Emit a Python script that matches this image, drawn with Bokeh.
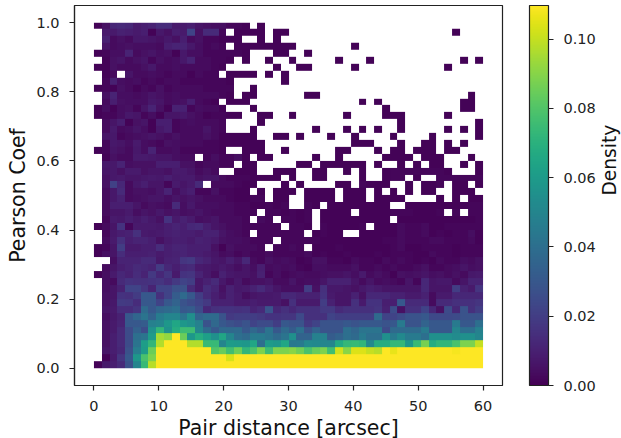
from bokeh.plotting import figure
from bokeh.models import LinearColorMapper, ColorBar, FixedTicker, Range1d, LinearAxis, NumeralTickFormatter
from bokeh.palettes import Viridis256
from bokeh.embed import file_html
from bokeh.resources import INLINE
import numpy as np
import math

_ = None
x_ticks = [0, 10, 20, 30, 40, 50, 60]
y_ticks = [0.0, 0.2, 0.4, 0.6, 0.8, 1.0]
cbar_ticks = [0.0, 0.02, 0.04, 0.06, 0.08, 0.10]
x_extent = [0, 60]
y_extent = [0, 1]
density_max = 0.1097

# density in thousandths, one list per row of cells from the top of the plot down
r00 = [1,5,12,13,12, 8,9,11,14,14, 8,8,9,6,5, 4,4,2,2,1, _,1,_,_,_, _,_,_,_,_, _,_,_,_,_, _,_,_,_,_, _,_,_,_,_, _,_,_,_,_]
r01 = [_,8,8,10,9, 8,9,1,7,5, 9,8,22,5,13, 13,2,_,1,1, 1,1,_,1,1, _,_,_,_,_, _,_,_,_,_, _,_,_,_,_, _,_,_,_,_, _,1,_,_,_]
r02 = [_,10,3,5,3, 7,7,6,5,7, 5,9,3,5,2, 2,1,1,1,_, _,1,_,1,_, _,_,_,_,_, _,_,_,_,_, _,_,_,_,_, _,_,_,_,_, _,_,_,_,_]
r03 = [_,6,3,4,5, 4,4,4,3,9, 11,11,7,4,2, 3,2,_,1,1, 1,1,1,1,1, 1,_,_,_,_, _,_,_,1,_, _,_,_,_,_, _,_,_,_,_, _,_,_,_,_]
r04 = [1,2,4,4,11, 3,5,6,4,5, 1,7,4,4,2, 2,2,2,2,1, _,_,_,1,1, _,_,1,_,_, _,_,_,_,_, _,_,_,_,_, _,_,_,_,_, _,_,_,_,_]
r05 = [_,1,5,6,3, 5,6,2,5,3, 4,7,11,3,3, 2,2,1,_,1, _,_,1,_,_, 1,_,_,_,_, _,1,_,_,_, 1,_,_,_,_, _,_,_,_,_, _,_,1,_,1]
r06 = [1,1,5,3,3, 3,5,7,3,3, 4,3,3,3,3, 2,1,_,_,_, _,_,_,1,_, _,1,1,_,_, _,_,_,1,_, _,_,_,_,_, _,_,_,_,_, 1,_,_,_,_]
r07 = [_,1,3,_,6, 3,3,4,3,2, 3,3,1,3,2, 2,_,1,1,1, 1,_,1,_,1, _,_,_,_,_, _,_,_,_,_, _,_,_,_,_, _,_,_,_,_, _,_,_,_,_]
r08 = [_,2,10,4,3, 4,2,3,2,3, 3,2,2,2,2, 2,2,1,_,_, _,_,_,_,1, _,_,_,_,_, _,_,_,_,_, _,_,_,_,_, _,_,_,_,_, _,_,_,_,_]
r09 = [1,2,1,5,3, 1,3,2,5,2, 3,3,3,3,2, 2,2,2,_,_, 1,_,_,_,_, _,_,_,_,_, _,_,_,_,_, _,_,_,_,_, _,_,_,_,_, _,_,_,_,_]
r10 = [_,5,11,4,4, 3,4,6,5,3, 4,3,3,3,3, 3,2,1,_,1, 1,_,_,_,_, _,_,1,1,_, _,_,_,_,_, _,_,_,_,_, _,_,_,_,_, _,_,_,1,_]
r11 = [_,3,9,5,4, 4,4,7,6,3, 4,5,9,3,2, 1,_,1,1,1, _,_,_,_,_, _,_,_,_,_, _,_,_,_,1, _,1,_,_,_, _,_,_,_,_, _,_,1,1,_]
r12 = [1,4,1,4,5, 2,6,11,5,1, 10,10,2,4,3, 3,1,_,_,_, 1,_,_,_,_, _,_,_,_,_, _,_,_,_,_, _,_,1,_,_, _,_,_,_,_, _,_,1,1,_]
r13 = [1,2,2,4,7, 6,2,4,1,6, 6,7,5,3,1, 2,2,1,1,_, _,1,1,_,_, 1,_,_,_,_, _,_,1,_,_, _,_,1,1,1, _,_,_,_,_, 1,_,_,_,_]
r14 = [_,3,6,9,1, 5,6,1,9,9, 2,3,4,3,3, 3,2,_,_,_, _,1,_,_,_, _,_,_,_,_, _,_,_,_,_, _,_,_,_,1, _,_,_,_,_, _,_,_,_,1]
r15 = [_,3,8,3,4, 6,4,1,7,9, 2,3,3,3,6, 3,2,_,_,_, 1,_,_,_,_, _,_,_,1,_, _,_,1,_,1, _,1,_,_,1, _,_,_,_,_, 1,_,1,_,1]
r16 = [_,6,7,2,3, 4,5,6,5,3, 5,3,3,3,5, 3,1,1,1,1, 1,_,_,1,1, _,1,_,_,_, 1,_,_,1,_, _,_,_,1,_, _,_,_,1,_, _,_,_,_,1]
r17 = [_,2,7,6,4, 8,4,3,2,5, 4,3,3,3,2, 2,1,1,1,1, 1,1,_,_,_, _,_,_,_,_, _,_,_,1,1, 1,_,_,_,1, _,_,1,1,_, 1,_,1,_,_]
r18 = [1,2,6,5,3, 7,4,11,3,3, 4,2,2,2,2, 2,1,_,_,1, 1,1,_,_,1, _,_,_,_,_, _,1,1,_,_, _,1,_,1,1, _,1,1,1,_, 1,1,_,_,_]
r19 = [_,1,5,3,3, 8,8,7,6,6, 4,3,3,_,2, 4,2,2,4,1, _,1,1,_,_, _,_,_,1,_, _,1,_,_,_, _,_,1,1,1, 1,_,1,1,1, _,_,_,1,_]
r20 = [_,7,7,11,4, 5,5,5,9,9, 9,5,5,2,3, 3,2,2,_,1, 1,_,_,_,_, _,1,1,_,1, 1,1,1,1,1, _,1,_,_,1, _,1,_,1,1, _,_,1,_,1]
r21 = [_,6,7,5,8, 8,5,6,6,5, 8,8,6,3,5, 3,_,_,1,1, 1,_,_,1,1, 1,_,_,1,1, _,_,1,_,1, _,_,1,2,2, 2,2,2,2,2, 1,_,_,_,1]
r22 = [_,5,7,8,6, 6,7,8,7,9, 7,8,8,5,6, 6,3,2,2,2, 1,1,1,1,_, 1,_,_,1,1, _,_,_,_,1, _,_,1,2,2, _,1,_,_,2, 2,2,2,2,2]
r23 = [_,5,21,12,3, 7,9,6,6,2, 8,6,8,13,_, 3,3,3,2,1, 1,_,_,_,1, _,1,_,_,_, _,1,1,_,2, 1,1,1,_,_, 1,_,1,1,2, _,1,1,_,1]
r24 = [_,3,7,13,3, 5,5,4,6,11, 4,7,9,2,2, 5,2,2,1,1, _,1,_,1,1, 1,_,1,1,1, 1,_,1,1,1, _,1,_,1,_, 1,_,1,1,_, _,1,1,1,_]
r25 = [_,3,7,10,3, 4,5,6,6,4, 6,5,6,5,3, 3,3,2,1,1, 2,2,_,1,1, _,_,1,1,1, 1,_,1,1,1, _,1,1,1,1, _,_,_,_,1, _,1,_,1,1]
r26 = [_,3,9,9,9, 6,3,5,4,3, 13,4,7,4,4, 4,3,3,2,2, 1,1,2,1,2, _,_,2,1,_, 1,1,1,1,1, 1,1,1,_,_, 1,1,1,1,1, 1,1,1,2,2]
r27 = [_,3,6,6,8, 4,6,5,7,5, 6,4,5,6,4, 3,3,3,2,2, 2,_,2,2,1, 2,1,2,_,1, 1,1,1,_,1, 1,1,1,2,2, 2,1,1,1,2, _,2,_,2,2]
r28 = [_,2,8,7,9, 7,9,7,5,16, 8,10,8,4,5, 6,3,3,3,2, _,3,2,_,2, 2,1,2,_,1, 1,1,1,1,1, 1,1,1,_,1, 1,1,1,1,1, 1,1,1,1,2]
r29 = [1,3,6,16,2, 8,8,8,7,9, 11,9,12,13,9, 6,5,3,3,2, 2,2,2,2,_, 2,2,1,_,2, 1,1,1,1,2, _,1,1,1,3, 2,2,3,1,1, 2,2,2,2,2]
r30 = [_,2,7,9,10, 15,8,7,8,9, 10,9,9,8,10, 10,6,4,3,2, _,2,2,2,2, 2,2,_,1,2, 1,1,_,_,1, 1,1,1,1,3, 2,2,3,1,2, 1,2,2,4,1]
r31 = [_,3,8,15,9, 11,11,9,5,8, 9,9,8,10,9, 8,5,4,4,3, 2,2,2,_,2, 2,2,2,2,1, 1,1,1,1,1, 1,1,2,2,3, 2,2,2,3,3, 2,2,2,3,1]
r32 = [1,2,6,20,8, 8,9,9,14,9, 11,11,9,9,9, 5,1,5,3,3, 3,2,_,2,2, 3,2,_,1,1, 1,2,1,1,1, 1,1,1,2,3, 1,1,2,2,2, 2,1,2,2,2]
r33 = [1,4,6,14,9, 9,9,10,8,9, 10,11,9,9,8, 6,3,4,2,3, 2,2,3,2,2, 2,2,3,1,2, 1,1,2,1,1, 1,2,1,2,2, 2,1,1,3,2, 2,1,2,2,2]
r34 = [_,_,4,11,11, 11,13,13,7,10, 11,17,18,12,10, 7,6,9,6,12, 3,2,5,3,4, 3,1,2,5,5, 2,2,1,3,2, 2,1,3,2,3, 2,1,2,1,3, 2,2,4,3,5]
r35 = [_,3,6,9,11, 13,12,11,19,12, 9,12,13,8,7, 6,8,6,4,6, 4,9,3,4,3, 4,2,1,4,4, 3,3,3,5,2, 2,3,2,3,2, 2,3,5,2,2, 3,4,6,4,5]
r36 = [1,4,8,12,10, 14,11,18,12,17, 8,16,17,11,7, 4,10,7,6,6, 5,10,2,4,2, 3,4,3,3,4, 5,5,6,4,8, 3,5,3,1,5, 4,5,6,4,5, 3,5,3,7,8]
r37 = [_,4,3,13,16, 15,15,16,17,14, 18,22,20,7,10, 13,7,4,7,3, 5,5,6,3,3, 6,3,4,4,6, 10,10,10,6,3, 6,3,4,3,2, 6,2,12,6,7, 7,3,6,11,11]
r38 = [_,4,6,10,22, 22,17,11,22,22, 27,27,13,7,14, 11,5,10,7,8, 10,13,9,6,4, 4,4,20,5,15, 7,7,6,5,7, 9,8,6,6,6, 6,6,12,6,6, 6,20,10,8,17]
r39 = [_,5,6,16,15, 19,30,30,15,22, 32,38,30,20,13, 9,6,10,8,4, 6,7,7,8,12, 12,10,10,10,16, 8,6,6,10,5, 12,12,12,10,10, 8,8,10,3,8, 8,12,12,12,12]
r40 = [_,5,7,19,18, 14,30,30,22,30, 35,28,25,22,18, 10,10,10,8,8, 9,8,8,8,5, 15,8,8,8,20, 10,6,6,15,8, 16,16,9,9,30, 13,13,13,3,13, 13,15,15,15,17]
r41 = [_,6,8,14,14, 17,38,30,36,38, 40,30,32,25,12, 15,16,16,15,16, 11,13,28,12,15, 12,15,15,15,18, 18,13,15,15,15, 15,17,10,25,5, 15,15,22,12,5, 25,12,28,15,20]
r42 = [_,4,7,10,30, 36,42,35,46,50, 50,42,54,35,38, 38,28,18,20,20, 20,18,16,16,17, 17,24,15,15,15, 22,20,20,20,20, 20,38,22,22,25, 28,28,30,24,24, 24,25,28,28,28]
r43 = [_,5,8,11,30, 30,32,48,50,58, 65,58,55,48,28, 37,30,27,25,28, 22,25,25,20,30, 28,28,18,22,28, 28,28,30,28,30, 30,30,28,30,45, 28,28,35,30,30, 30,45,30,30,40]
r44 = [_,5,8,13,25, 34,26,56,72,56, 68,75,75,50,38, 30,37,37,38,30, 37,32,42,30,38, 32,40,27,35,28, 28,28,40,36,42, 42,42,25,38,38, 38,38,45,30,30, 30,50,40,40,48]
r45 = [_,5,9,13,25, 40,42,60,95,92, 120,85,58,68,62, 55,65,50,40,38, 45,45,42,38,42, 55,35,35,48,48, 32,35,40,38,45, 40,40,55,45,52, 45,45,40,55,55, 55,53,55,55,50]
r46 = [_,5,9,13,25, 42,61,72,97,120, 120,120,97,97,74, 74,50,60,59,58, 65,40,60,58,65, 44,45,53,52,50, 50,67,73,74,72, 52,68,68,73,73, 58,74,87,68,72, 72,78,88,88,100]
r47 = [_,6,9,12,27, 47,60,85,120,120, 120,120,120,120,120, 80,84,76,85,72, 78,88,75,88,88, 90,86,78,84,88, 76,102,90,104,104, 100,98,115,106,120, 120,120,120,120,120, 120,108,120,120,120]
r48 = [_,1,8,17,30, 58,78,88,120,120, 120,120,120,120,120, 120,120,103,120,120, 120,120,120,120,120, 120,120,120,120,120, 120,120,120,120,120, 120,120,120,120,120, 120,120,120,120,120, 120,120,120,120,120]
r49 = [1,7,9,13,27, 50,74,98,120,120, 120,120,120,120,120, 120,120,120,120,120, 120,120,120,120,120, 120,120,120,120,120, 120,120,120,120,120, 120,120,120,120,120, 120,120,120,120,120, 120,120,120,120,120]

rows = [r00,r01,r02,r03,r04,r05,r06,r07,r08,r09,r10,r11,r12,r13,r14,r15,r16,r17,r18,r19,
        r20,r21,r22,r23,r24,r25,r26,r27,r28,r29,r30,r31,r32,r33,r34,r35,r36,r37,r38,r39,
        r40,r41,r42,r43,r44,r45,r46,r47,r48,r49]
density = np.array(rows, dtype=float)[::-1] / 1000.0

mapper = LinearColorMapper(palette=Viridis256, low=0, high=density_max, nan_color="rgba(0,0,0,0)")

p = figure(frame_width=428, frame_height=380, output_backend="svg", toolbar_location=None,
           x_range=Range1d(-3, 63), y_range=Range1d(-0.05, 1.05),
           min_border_left=74, min_border_top=5, min_border_bottom=53, min_border_right=119,
           background_fill_color="white", border_fill_color="white",
           styles={"position": "absolute", "left": "0px", "top": "0px"})
p.image(image=[density], x=x_extent[0], y=y_extent[0], dw=x_extent[1] - x_extent[0],
        dh=y_extent[1] - y_extent[0], color_mapper=mapper)

p.grid.visible = False
p.outline_line_color = "#222222"
p.outline_line_width = 1.2
for ax, ticks, label in ((p.xaxis[0], x_ticks, "Pair distance [arcsec]"), (p.yaxis[0], y_ticks, "Pearson Coef")):
    ax.ticker = FixedTicker(ticks=ticks)
    ax.minor_tick_line_color = None
    ax.axis_label = label
    ax.axis_label_text_font = "DejaVu Sans"
    ax.axis_label_text_font_size = "20.5px"
    ax.axis_label_text_font_style = "normal"
    ax.axis_label_text_color = "#111111"
    ax.major_label_text_font = "DejaVu Sans"
    ax.major_label_text_font_size = "14.5px"
    ax.major_label_text_color = "#222222"
    ax.major_tick_in = 0
    ax.major_tick_out = 5
    ax.major_tick_line_color = "#222222"
    ax.major_tick_line_width = 1.2
    ax.axis_line_color = "#222222"
    ax.axis_line_width = 1.2
p.xaxis[0].major_label_standoff = 10
p.yaxis[0].major_label_standoff = 10
p.xaxis[0].formatter = NumeralTickFormatter(format="0")
p.yaxis[0].formatter = NumeralTickFormatter(format="0.0")
p.xaxis[0].axis_label_standoff = 2
p.yaxis[0].axis_label_standoff = 3

cb = ColorBar(color_mapper=mapper, ticker=FixedTicker(ticks=cbar_ticks), width=19, height=380,
              location=(27, 0), margin=0, padding=0, label_standoff=10,
              major_label_text_font="DejaVu Sans", major_label_text_font_size="14.5px",
              major_label_text_color="#222222", major_tick_in=0, major_tick_out=5,
              major_tick_line_color="#222222", major_tick_line_width=1.2,
              minor_tick_line_color=None, bar_line_color="#222222", bar_line_width=1.2,
              border_line_color=None, background_fill_color=None,
              formatter=NumeralTickFormatter(format="0.00"))
p.add_layout(cb, "right")

title_axis = LinearAxis(axis_label="Density", ticker=FixedTicker(ticks=[]), axis_line_color=None,
                        major_tick_line_color=None, minor_tick_line_color=None,
                        major_label_standoff=0, major_tick_out=0, major_tick_in=0,
                        bounds=(-0.05, 0.848),
                        axis_label_text_font="DejaVu Sans", axis_label_text_font_size="18.6px",
                        axis_label_text_font_style="normal", axis_label_text_color="#111111",
                        axis_label_standoff=11, axis_label_orientation=math.pi / 2)
p.add_layout(title_axis, "right")

open("out.html", "w").write(file_html(p, INLINE))
